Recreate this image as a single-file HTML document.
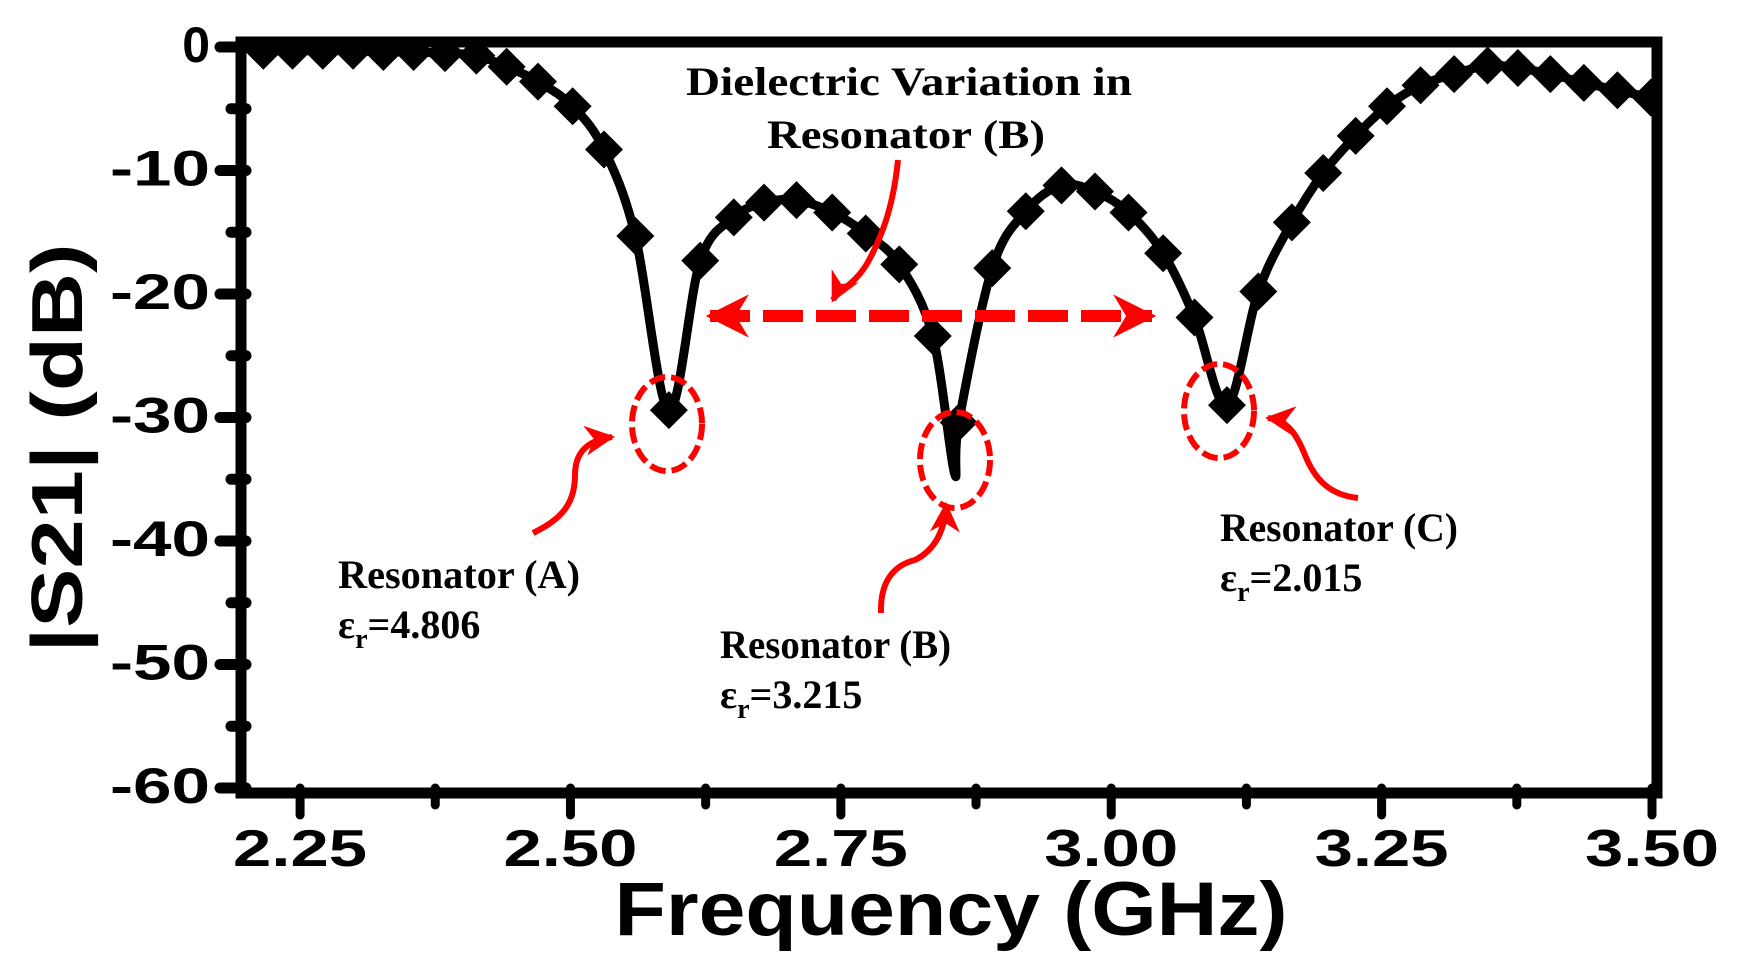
<!DOCTYPE html>
<html><head><meta charset="utf-8"><style>
html,body{margin:0;padding:0;background:#fff;}
svg{display:block;}
</style></head><body>
<svg id="chart" width="1739" height="968" viewBox="0 0 1739 968" xmlns="http://www.w3.org/2000/svg">
<defs>
<marker id="ah" viewBox="0 0 10 10" refX="9" refY="5" markerWidth="3.6" markerHeight="3.6" orient="auto-start-reverse" markerUnits="strokeWidth"><path d="M0,0 L10,5 L0,10 L3,5 z" fill="#f00"/></marker>
<marker id="ah2" viewBox="0 0 10 10" refX="9" refY="5" markerWidth="5" markerHeight="5" orient="auto" markerUnits="strokeWidth"><path d="M0,0 L10,5 L0,10 L3,5 z" fill="#f00"/></marker>
<clipPath id="pc"><rect x="246" y="47" width="1406" height="741"/></clipPath>
</defs>
<g id="marks" clip-path="url(#pc)"></g>
<g id="axes"></g>
<g id="annot" font-family="'Liberation Serif', serif" font-weight="bold" fill="#000">
  <text x="686" y="95" font-size="40" textLength="446" lengthAdjust="spacingAndGlyphs">Dielectric Variation in</text>
  <text x="767" y="148" font-size="40" textLength="278" lengthAdjust="spacingAndGlyphs">Resonator (B)</text>
  <text x="338" y="588" font-size="40" textLength="242" lengthAdjust="spacingAndGlyphs">Resonator (A)</text>
  <text x="338" y="638" font-size="40">ε<tspan font-size="28" dy="10">r</tspan><tspan dy="-10">=4.806</tspan></text>
  <text x="720" y="658" font-size="40" textLength="231" lengthAdjust="spacingAndGlyphs">Resonator (B)</text>
  <text x="720" y="708" font-size="40">ε<tspan font-size="28" dy="10">r</tspan><tspan dy="-10">=3.215</tspan></text>
  <text x="1220" y="541" font-size="40" textLength="238" lengthAdjust="spacingAndGlyphs">Resonator (C)</text>
  <text x="1220" y="591" font-size="40">ε<tspan font-size="28" dy="10">r</tspan><tspan dy="-10">=2.015</tspan></text>
</g>
<g id="red" fill="none" stroke="#f00">
  <line x1="710" y1="316" x2="1152" y2="316" stroke-width="12" stroke-dasharray="40 13" marker-start="url(#ah)" marker-end="url(#ah)"/>
  <ellipse cx="667" cy="424" rx="35" ry="47" stroke-width="6" stroke-dasharray="16 6"/>
  <ellipse cx="955" cy="460" rx="35" ry="48" stroke-width="6" stroke-dasharray="16 6"/>
  <ellipse cx="1219" cy="411" rx="35" ry="47" stroke-width="6" stroke-dasharray="16 6"/>
  <path d="M533,533 C560,520 575,505 575,475 C575,450 590,440 612,437" stroke-width="6" marker-end="url(#ah2)"/>
  <path d="M881,613 C880,580 895,565 915,560 C935,550 945,530 946,505" stroke-width="6" marker-end="url(#ah2)"/>
  <path d="M1358,498 C1330,495 1315,480 1305,455 C1295,430 1285,420 1268,418" stroke-width="6" marker-end="url(#ah2)"/>
  <path d="M898,160 C893,210 880,240 868,262 C855,285 838,290 833,300" stroke-width="6" marker-end="url(#ah2)"/>
</g>
</svg>
<script>
const freqs = [2.216,2.243,2.271,2.299,2.327,2.355,2.384,2.413,2.441,2.470,2.502,2.531,2.560,2.591,2.620,2.651,2.679,2.709,2.742,2.773,2.804,2.835,2.855,2.859,2.890,2.921,2.954,2.985,3.016,3.048,3.077,3.107,3.136,3.167,3.196,3.226,3.255,3.286,3.317,3.348,3.376,3.406,3.437,3.468,3.499];
const s21 = [-0.3,-0.3,-0.3,-0.3,-0.4,-0.4,-0.5,-0.7,-1.6,-2.8,-4.8,-8.3,-15.3,-29.4,-17.3,-13.8,-12.6,-12.4,-13.4,-15.1,-17.6,-23.4,-34.5,-30.4,-17.9,-13.3,-11.2,-11.7,-13.4,-16.7,-21.9,-29.0,-19.8,-14.2,-10.2,-7.2,-4.8,-3.1,-2.2,-1.5,-1.7,-2.2,-2.9,-3.5,-4.1];
const noMarker = [22];
const yTicks = [0,-10,-20,-30,-40,-50,-60];
const yTickLabels = ["0","-10","-20","-30","-40","-50","-60"];
const xTicks = [2.25,2.50,2.75,3.00,3.25,3.50];
const xTickLabels = ["2.25","2.50","2.75","3.00","3.25","3.50"];

const NS = "http://www.w3.org/2000/svg";
const L=246, R=1652, T=47, B=788, X0=2.2, X1=3.5, Y0=0, Y1=-60;
function xs(f){return L+(f-X0)/(X1-X0)*(R-L);}
function ys(v){return T+(v-Y0)/(Y1-Y0)*(B-T);}
function mk(tag,attrs,parent){const e=document.createElementNS(NS,tag);for(const k in attrs)e.setAttribute(k,attrs[k]);parent.appendChild(e);return e;}
const g=document.getElementById('marks'), axes=document.getElementById('axes');
const pts=freqs.map((f,i)=>[xs(f),ys(s21[i])]);
let d='M'+pts[0][0]+','+pts[0][1];
for(let i=0;i<pts.length-1;i++){
  const p0=pts[Math.max(0,i-1)],p1=pts[i],p2=pts[i+1],p3=pts[Math.min(pts.length-1,i+2)];
  const t=6;
  d+=' C'+(p1[0]+(p2[0]-p0[0])/t)+','+(p1[1]+(p2[1]-p0[1])/t)+' '+(p2[0]-(p3[0]-p1[0])/t)+','+(p2[1]-(p3[1]-p1[1])/t)+' '+p2[0]+','+p2[1];
}
const line=mk('path',{d:d,fill:'none',stroke:'#000','stroke-width':9,'stroke-linejoin':'round'},g);


pts.forEach((p,i)=>{
  if(noMarker.includes(i))return;
  const r=19;
  const m=mk('polygon',{points:`${p[0]},${p[1]-r} ${p[0]+r},${p[1]} ${p[0]},${p[1]+r} ${p[0]-r},${p[1]}`,fill:'#000'},g);
  
  
});
const fr=mk('rect',{x:L-5,y:T-5,width:R-L+10,height:B-T+10,fill:'none',stroke:'#000','stroke-width':11},axes);


for(let v=0;v>=-60;v-=5){
  const major=(v%10===0);
  const t=mk('line',{x1:major?220:231,x2:L,y1:ys(v),y2:ys(v),stroke:'#000','stroke-width':11,'stroke-linecap':'round'},axes);
  
  
}
yTicks.forEach((v,i)=>{
  const t=mk('text',{x:210,y:ys(v)+15,'text-anchor':'end','font-family':"'Liberation Sans', sans-serif",'font-weight':'bold','font-size':50},axes);
  if(yTickLabels[i].length>1){t.setAttribute('textLength',100);t.setAttribute('lengthAdjust','spacingAndGlyphs');}
  t.textContent=yTickLabels[i];
  
  
});
for(let k=0;k<=10;k++){
  const f=2.25+k*0.125;
  const major=(k%2===0);
  const t=mk('line',{x1:xs(f),x2:xs(f),y1:B,y2:major?815:805,stroke:'#000','stroke-width':9,'stroke-linecap':'round'},axes);
  
  
}
xTicks.forEach((v,i)=>{
  const t=mk('text',{x:xs(v),y:866,'text-anchor':'middle','font-family':"'Liberation Sans', sans-serif",'font-weight':'bold','font-size':52,textLength:134,lengthAdjust:'spacingAndGlyphs'},axes);
  t.textContent=xTickLabels[i];
  
  
});
const xt=mk('text',{x:951,y:935,'text-anchor':'middle','font-family':"'Liberation Sans', sans-serif",'font-weight':'bold','font-size':76,textLength:673,lengthAdjust:'spacingAndGlyphs'},axes);
xt.textContent='Frequency (GHz)';


const yt=mk('text',{x:0,y:0,'text-anchor':'middle','font-family':"'Liberation Sans', sans-serif",'font-weight':'bold','font-size':72,textLength:409,lengthAdjust:'spacingAndGlyphs',transform:'translate(82,448) rotate(-90)'},axes);
yt.textContent='|S21| (dB)';


</script>
</body></html>
